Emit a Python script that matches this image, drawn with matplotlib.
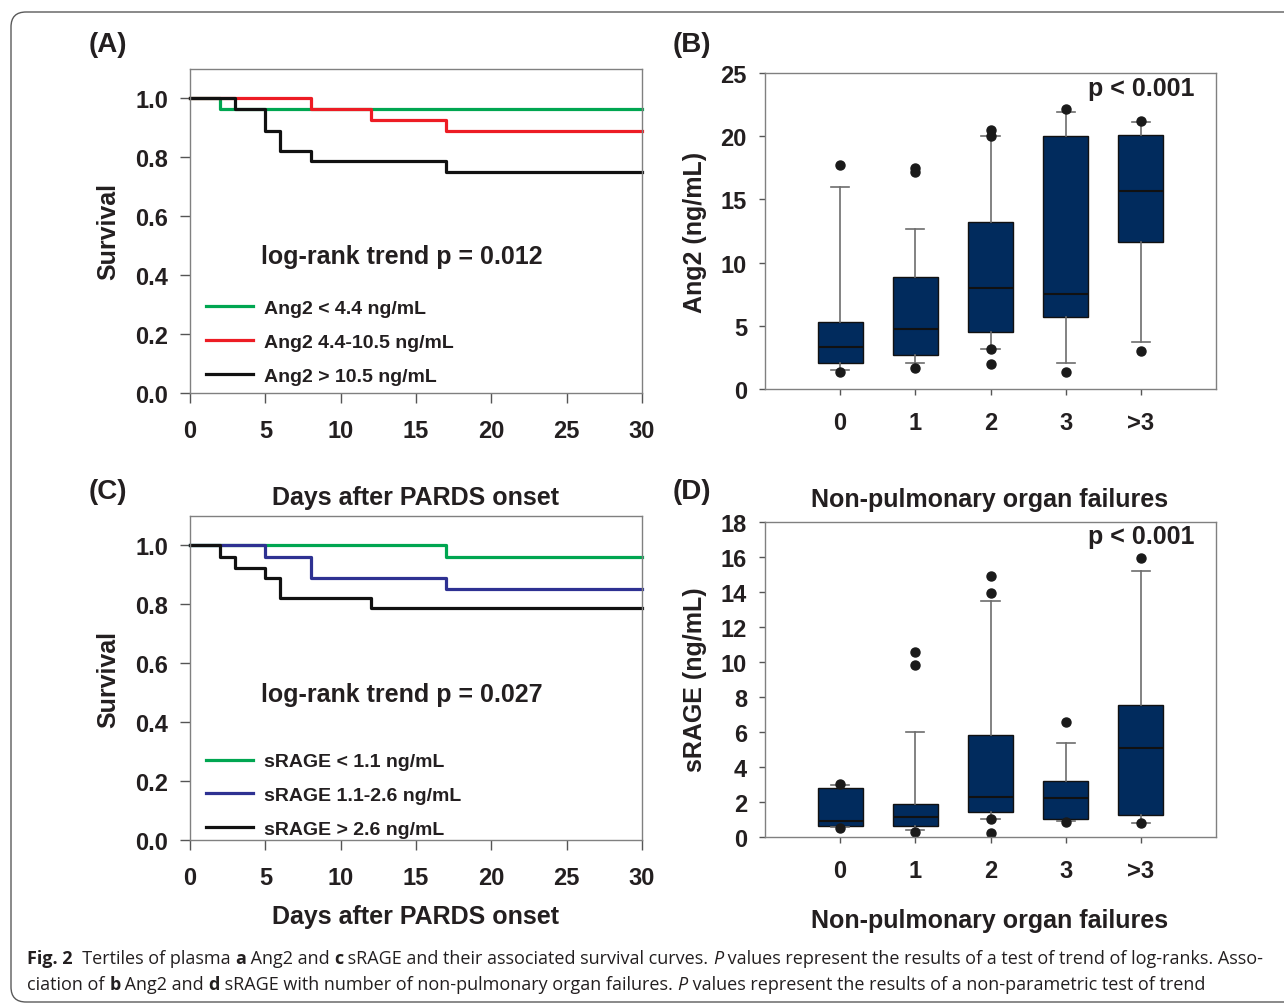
import numpy as np
import matplotlib
matplotlib.use("Agg")
import matplotlib.pyplot as plt
from matplotlib.lines import Line2D
from matplotlib.patches import FancyBboxPatch

# ---- data ----
# (A) Kaplan-Meier, Ang2 tertiles
ang2_low_t = [0, 2, 30]
ang2_low_s = [1.0, 0.963, 0.963]
ang2_mid_t = [0, 8, 12, 17, 30]
ang2_mid_s = [1.0, 0.963, 0.926, 0.889, 0.889]
ang2_high_t = [0, 3, 5, 6, 8, 17, 30]
ang2_high_s = [1.0, 0.963, 0.891, 0.822, 0.786, 0.751, 0.751]
ang2_labels = ["Ang2 < 4.4 ng/mL", "Ang2 4.4-10.5 ng/mL", "Ang2 > 10.5 ng/mL"]

# (C) Kaplan-Meier, sRAGE tertiles
srage_low_t = [0, 17, 30]
srage_low_s = [1.0, 0.962, 0.962]
srage_mid_t = [0, 5, 8, 17, 30]
srage_mid_s = [1.0, 0.962, 0.888, 0.853, 0.853]
srage_high_t = [0, 2, 3, 5, 6, 12, 30]
srage_high_s = [1.0, 0.962, 0.925, 0.890, 0.821, 0.786, 0.786]
srage_labels = ["sRAGE < 1.1 ng/mL", "sRAGE 1.1-2.6 ng/mL", "sRAGE > 2.6 ng/mL"]

# (B) Ang2 by number of non-pulmonary organ failures
categories = ["0", "1", "2", "3", ">3"]
ang2_q1 = [2.06, 2.69, 4.54, 5.70, 11.6]
ang2_med = [3.3, 4.77, 7.99, 7.49, 15.69]
ang2_q3 = [5.27, 8.89, 13.19, 20.04, 20.07]
ang2_whislo = [1.5, 2.06, 3.19, 2.08, 3.74]
ang2_whishi = [15.98, 12.66, 19.99, 21.89, 21.15]
ang2_fliers = [[17.72, 1.37], [17.48, 17.19, 1.69], [20.49, 20.04, 3.19, 1.95],
               [22.15, 1.32], [21.23, 2.98]]

# (D) sRAGE by number of non-pulmonary organ failures
srage_q1 = [0.65, 0.65, 1.41, 1.05, 1.24]
srage_med = [0.93, 1.12, 2.27, 2.23, 5.07]
srage_q3 = [2.8, 1.9, 5.83, 3.22, 7.56]
srage_whislo = [0.6, 0.38, 1.01, 0.91, 0.82]
srage_whishi = [3.0, 6.0, 13.5, 5.39, 15.2]
srage_fliers = [[3.03, 0.53], [10.59, 9.83, 0.29], [14.93, 13.92, 1.01, 0.23],
                [6.55, 0.86], [15.92, 0.80]]

# ---- style ----
W, H = 1284, 1004
INK = "#231f20"
FRAME = "#808080"
TICK = "#555555"
GREEN = "#00a651"
RED = "#ed1c24"
BLUE = "#2e3192"
NAVY = "#012b5d"

plt.rcParams["font.family"] = ["Liberation Sans", "DejaVu Sans"]
plt.rcParams["font.weight"] = "bold"
plt.rcParams["text.color"] = INK
plt.rcParams["xtick.color"] = TICK
plt.rcParams["ytick.color"] = TICK
plt.rcParams["xtick.labelcolor"] = INK
plt.rcParams["ytick.labelcolor"] = INK


def fx(px):
    return px / W


def fy(py):
    return 1 - py / H


def ax_rect(left, top, right, bottom):
    return [fx(left), fy(bottom), (right - left) / W, (bottom - top) / H]


fig = plt.figure(figsize=(W / 100, H / 100), dpi=100)


def style_frame(ax, ticklen):
    for sp in ax.spines.values():
        sp.set_color(FRAME)
        sp.set_linewidth(1.0)
    ax.tick_params(direction="out", length=ticklen, width=1, labelsize=17,
                   top=False, right=False)


def km_panel(rect, series, colors, labels, ptext, ptext_y, leg_y):
    ax = fig.add_axes(rect)
    for (t, s), c, lab in zip(series, colors, labels):
        ax.step(t, s, where="post", color=c, lw=2.3, label=lab, clip_on=False)
    ax.set_xlim(0, 30)
    ax.set_ylim(0, 1.1)
    ax.set_xticks(np.arange(0, 31, 5))
    ax.set_yticks(np.arange(0, 1.01, 0.2))
    ax.set_yticklabels(["%.1f" % v for v in np.arange(0, 1.01, 0.2)])
    style_frame(ax, 7.5)
    ax.tick_params(axis="x", pad=11)
    ax.tick_params(axis="y", pad=8)
    ax.text(0.469, ptext_y, ptext, transform=ax.transAxes, fontsize=18,
            ha="center", va="center")
    handles = [Line2D([], [], color=c, lw=2.3) for c in colors]
    ax.legend(handles, labels, loc="upper left", bbox_to_anchor=(0.036, leg_y),
              frameon=False, fontsize=14, handlelength=2.4, handletextpad=0.55,
              labelspacing=0.83, borderpad=0, borderaxespad=0)
    return ax


def box_panel(rect, q1, med, q3, lo, hi, fliers, ymax, ystep, ptext_y):
    ax = fig.add_axes(rect)
    stats = []
    for i in range(len(categories)):
        stats.append(dict(q1=q1[i], med=med[i], q3=q3[i], whislo=lo[i],
                          whishi=hi[i], fliers=fliers[i], label=categories[i]))
    ax.bxp(stats, positions=range(len(categories)), widths=0.6, capwidths=0.24,
           patch_artist=True,
           boxprops=dict(facecolor=NAVY, edgecolor="#111111", lw=1.0),
           medianprops=dict(color="#111111", lw=1.5),
           whiskerprops=dict(color="#6d6d6d", lw=1.2),
           capprops=dict(color="#6d6d6d", lw=1.2),
           flierprops=dict(marker="o", markerfacecolor="#1a1a1a",
                           markeredgecolor="#1a1a1a", markersize=6.5))
    ax.set_xlim(-1, 5)
    ax.set_ylim(0, ymax)
    ax.set_yticks(np.arange(0, ymax + 0.1, ystep))
    style_frame(ax, 4)
    ax.tick_params(axis="x", pad=12)
    ax.tick_params(axis="y", pad=9)
    ax.text(0.953, ptext_y, "p < 0.001", transform=ax.transAxes, fontsize=18,
            ha="right", va="center")
    return ax


km_panel(ax_rect(190, 70, 642, 394),
         [(ang2_low_t, ang2_low_s), (ang2_mid_t, ang2_mid_s), (ang2_high_t, ang2_high_s)],
         [GREEN, RED, "#111111"], ang2_labels, "log-rank trend p = 0.012", 0.423, 0.288)
km_panel(ax_rect(190, 517, 642, 841),
         [(srage_low_t, srage_low_s), (srage_mid_t, srage_mid_s), (srage_high_t, srage_high_s)],
         [GREEN, BLUE, "#111111"], srage_labels, "log-rank trend p = 0.027", 0.451, 0.269)
box_panel(ax_rect(765, 74, 1216, 390), ang2_q1, ang2_med, ang2_q3, ang2_whislo,
          ang2_whishi, ang2_fliers, 25, 5, 0.953)
box_panel(ax_rect(765, 523, 1216, 838), srage_q1, srage_med, srage_q3, srage_whislo,
          srage_whishi, srage_fliers, 18, 2, 0.956)

# panel letters, axis titles
for lab, x, y in [("(A)", 108, 45), ("(B)", 692, 45), ("(C)", 108, 492), ("(D)", 692, 492)]:
    fig.text(fx(x), fy(y), lab, fontsize=20, ha="center", va="center")
for x, y in [(416, 498), (416, 917)]:
    fig.text(fx(x), fy(y), "Days after PARDS onset", fontsize=18, ha="center", va="center")
for x, y in [(990, 500), (990, 921)]:
    fig.text(fx(x), fy(y), "Non-pulmonary organ failures", fontsize=18, ha="center", va="center")
for lab, x, y in [("Survival", 108, 232), ("Survival", 108, 680),
                  ("Ang2 (ng/mL)", 695, 232), ("sRAGE (ng/mL)", 695, 680)]:
    fig.text(fx(x), fy(y), lab, fontsize=18, ha="center", va="center", rotation=90)

# rounded frame round the whole figure
fig.add_artist(FancyBboxPatch((0.11, 0.01), 14.0, 9.90,
                              boxstyle="round,pad=0,rounding_size=0.15",
                              transform=fig.dpi_scale_trans, fill=False,
                              edgecolor="#5a5a5a", lw=1.0))

# caption with mixed weights
CAP_FONT = ["Open Sans", "DejaVu Sans"]
renderer = fig.canvas.get_renderer()


def caption_line(x, y, segs, size=13.0):
    for s, w, st in segs:
        t = fig.text(x, y, s, fontsize=size, fontweight=w, fontstyle=st,
                     family=CAP_FONT, color=INK, va="baseline", ha="left")
        x += t.get_window_extent(renderer=renderer).width / fig.bbox.width


N, B, I = "normal", "bold", "italic"
caption_line(fx(27), fy(964), [
    ("Fig. 2", B, N), ("  Tertiles of plasma ", N, N), ("a", B, N), (" Ang2 and ", N, N),
    ("c", B, N), (" sRAGE and their associated survival curves. ", N, N), ("P", N, I),
    (" values represent the results of a test of trend of log-ranks. Asso-", N, N)])
caption_line(fx(27), fy(990), [
    ("ciation of ", N, N), ("b", B, N), (" Ang2 and ", N, N), ("d", B, N),
    (" sRAGE with number of non-pulmonary organ failures. ", N, N), ("P", N, I),
    (" values represent the results of a non-parametric test of trend", N, N)])

fig.savefig("out.png", dpi=100)
